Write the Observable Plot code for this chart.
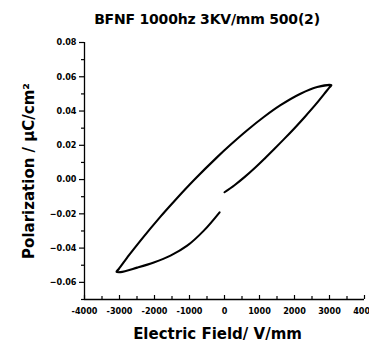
<!DOCTYPE html>
<html>
<head>
<meta charset="utf-8">
<script src="https://cdn.jsdelivr.net/npm/d3@7"></script>
<script src="https://cdn.jsdelivr.net/npm/@observablehq/plot@0.6"></script>
<style>
  html, body { margin: 0; padding: 0; background: #fff; }
  #wrap { position: relative; width: 369px; height: 342px; overflow: hidden; }
  #title { position: absolute; top: 11px; left: 207px; transform: translateX(-50%);
    font: bold 14px "DejaVu Sans", sans-serif; white-space: nowrap; color: #000; letter-spacing: -0.2px; }
  #chart { position: absolute; top: 30px; left: 0; }
  svg text { font-family: "Liberation Sans Narrow", "DejaVu Sans Condensed", sans-serif; font-weight: bold; }
</style>
</head>
<body>
<div id="wrap">
  <div id="title">BFNF 1000hz 3KV/mm 500(2)</div>
  <div id="chart"></div>
</div>
<script>
// Field (V/mm) and polarization (µC/cm²) along the loop, in drawing order
const fieldValues = [
  0, 286, 571, 857, 1143, 1429, 1714, 2000, 2300, 2600, 2850, 3000, 3055,
  2649, 2171, 1600, 1123, 649, 171, -209, -877, -1449, -1829, -2400, -2734, -3020, -3086,
  -2971, -2494, -2020, -1543, -1066, -591, -140
];
const polarizationValues = [
  -0.0074, -0.0033, 0.0014, 0.0066, 0.0122, 0.0180, 0.0239, 0.0300, 0.0367, 0.0437, 0.0500, 0.0538, 0.0550,
  0.0540, 0.0501, 0.0434, 0.0365, 0.0288, 0.0203, 0.0131, -0.0004, -0.0129, -0.0216, -0.0356, -0.0443, -0.0522, -0.0538,
  -0.0540, -0.0514, -0.0484, -0.0444, -0.0386, -0.0298, -0.0191
];
const xTicks = [-4000, -3000, -2000, -1000, 0, 1000, 2000, 3000, 4000];
const xMinorTicks = [-3500, -2500, -1500, -500, 500, 1500, 2500, 3500];
const yTicks = [-0.06, -0.04, -0.02, 0.00, 0.02, 0.04, 0.06, 0.08];
const yMinorTicks = [-0.07, -0.05, -0.03, -0.01, 0.01, 0.03, 0.05, 0.07];
const xDomain = [-4000, 4000];
const yDomain = [-0.07, 0.08];

const loop = fieldValues.map((x, i) => ({x, y: polarizationValues[i]}));

const W = 369, H = 312, mt = 12, mb = 43, ml = 84, mr = 5;
const frameH = H - mt - mb;

const chart = Plot.plot({
  width: W, height: H,
  marginTop: mt, marginBottom: mb, marginLeft: ml, marginRight: mr,
  style: {background: "#fff", color: "#000"},
  x: {domain: xDomain},
  y: {domain: yDomain},
  marks: [
    Plot.ruleX(xTicks, {x: d => d, insetTop: frameH - 4, stroke: "#000", strokeWidth: 1.2}),
    Plot.ruleX(xMinorTicks, {x: d => d, insetTop: frameH - 3, stroke: "#000", strokeWidth: 1.2}),
    Plot.axisX({ticks: xTicks, tickSize: 0, tickPadding: 8, tickFormat: d => String(d),
      fontSize: 9, label: "Electric Field/ V/mm", labelAnchor: "center", labelArrow: false, labelOffset: 39}),
    Plot.axisY({ticks: yMinorTicks, tickSize: 3, tickFormat: () => "", label: null, strokeWidth: 1.2}),
    Plot.axisY({ticks: yTicks, tickSize: 5, tickPadding: 3, tickFormat: d3.format(".2f"), fontSize: 9, strokeWidth: 1.2,
      label: "Polarization / μC/cm²", labelAnchor: "center", labelArrow: false, labelOffset: 61}),
    Plot.ruleX([xDomain[0]], {stroke: "#000", strokeWidth: 1.3}),
    Plot.ruleY([yDomain[0]], {stroke: "#000", strokeWidth: 1.3}),
    Plot.line(loop, {x: "x", y: "y", stroke: "#000", strokeWidth: 2.1, curve: "catmull-rom"})
  ]
});
chart.querySelectorAll("[aria-label='x-axis label'] text, [aria-label='y-axis label'] text").forEach(t => {
  t.style.fontSize = "15px"; t.style.fontWeight = "bold"; t.style.fontFamily = "'DejaVu Sans', sans-serif";
});
const xl = chart.querySelector("[aria-label='x-axis label']");
if (xl) xl.setAttribute("transform", ((xl.getAttribute("transform") || "") + " translate(-7,0)").trim());
document.getElementById("chart").appendChild(chart);
</script>
</body>
</html>
